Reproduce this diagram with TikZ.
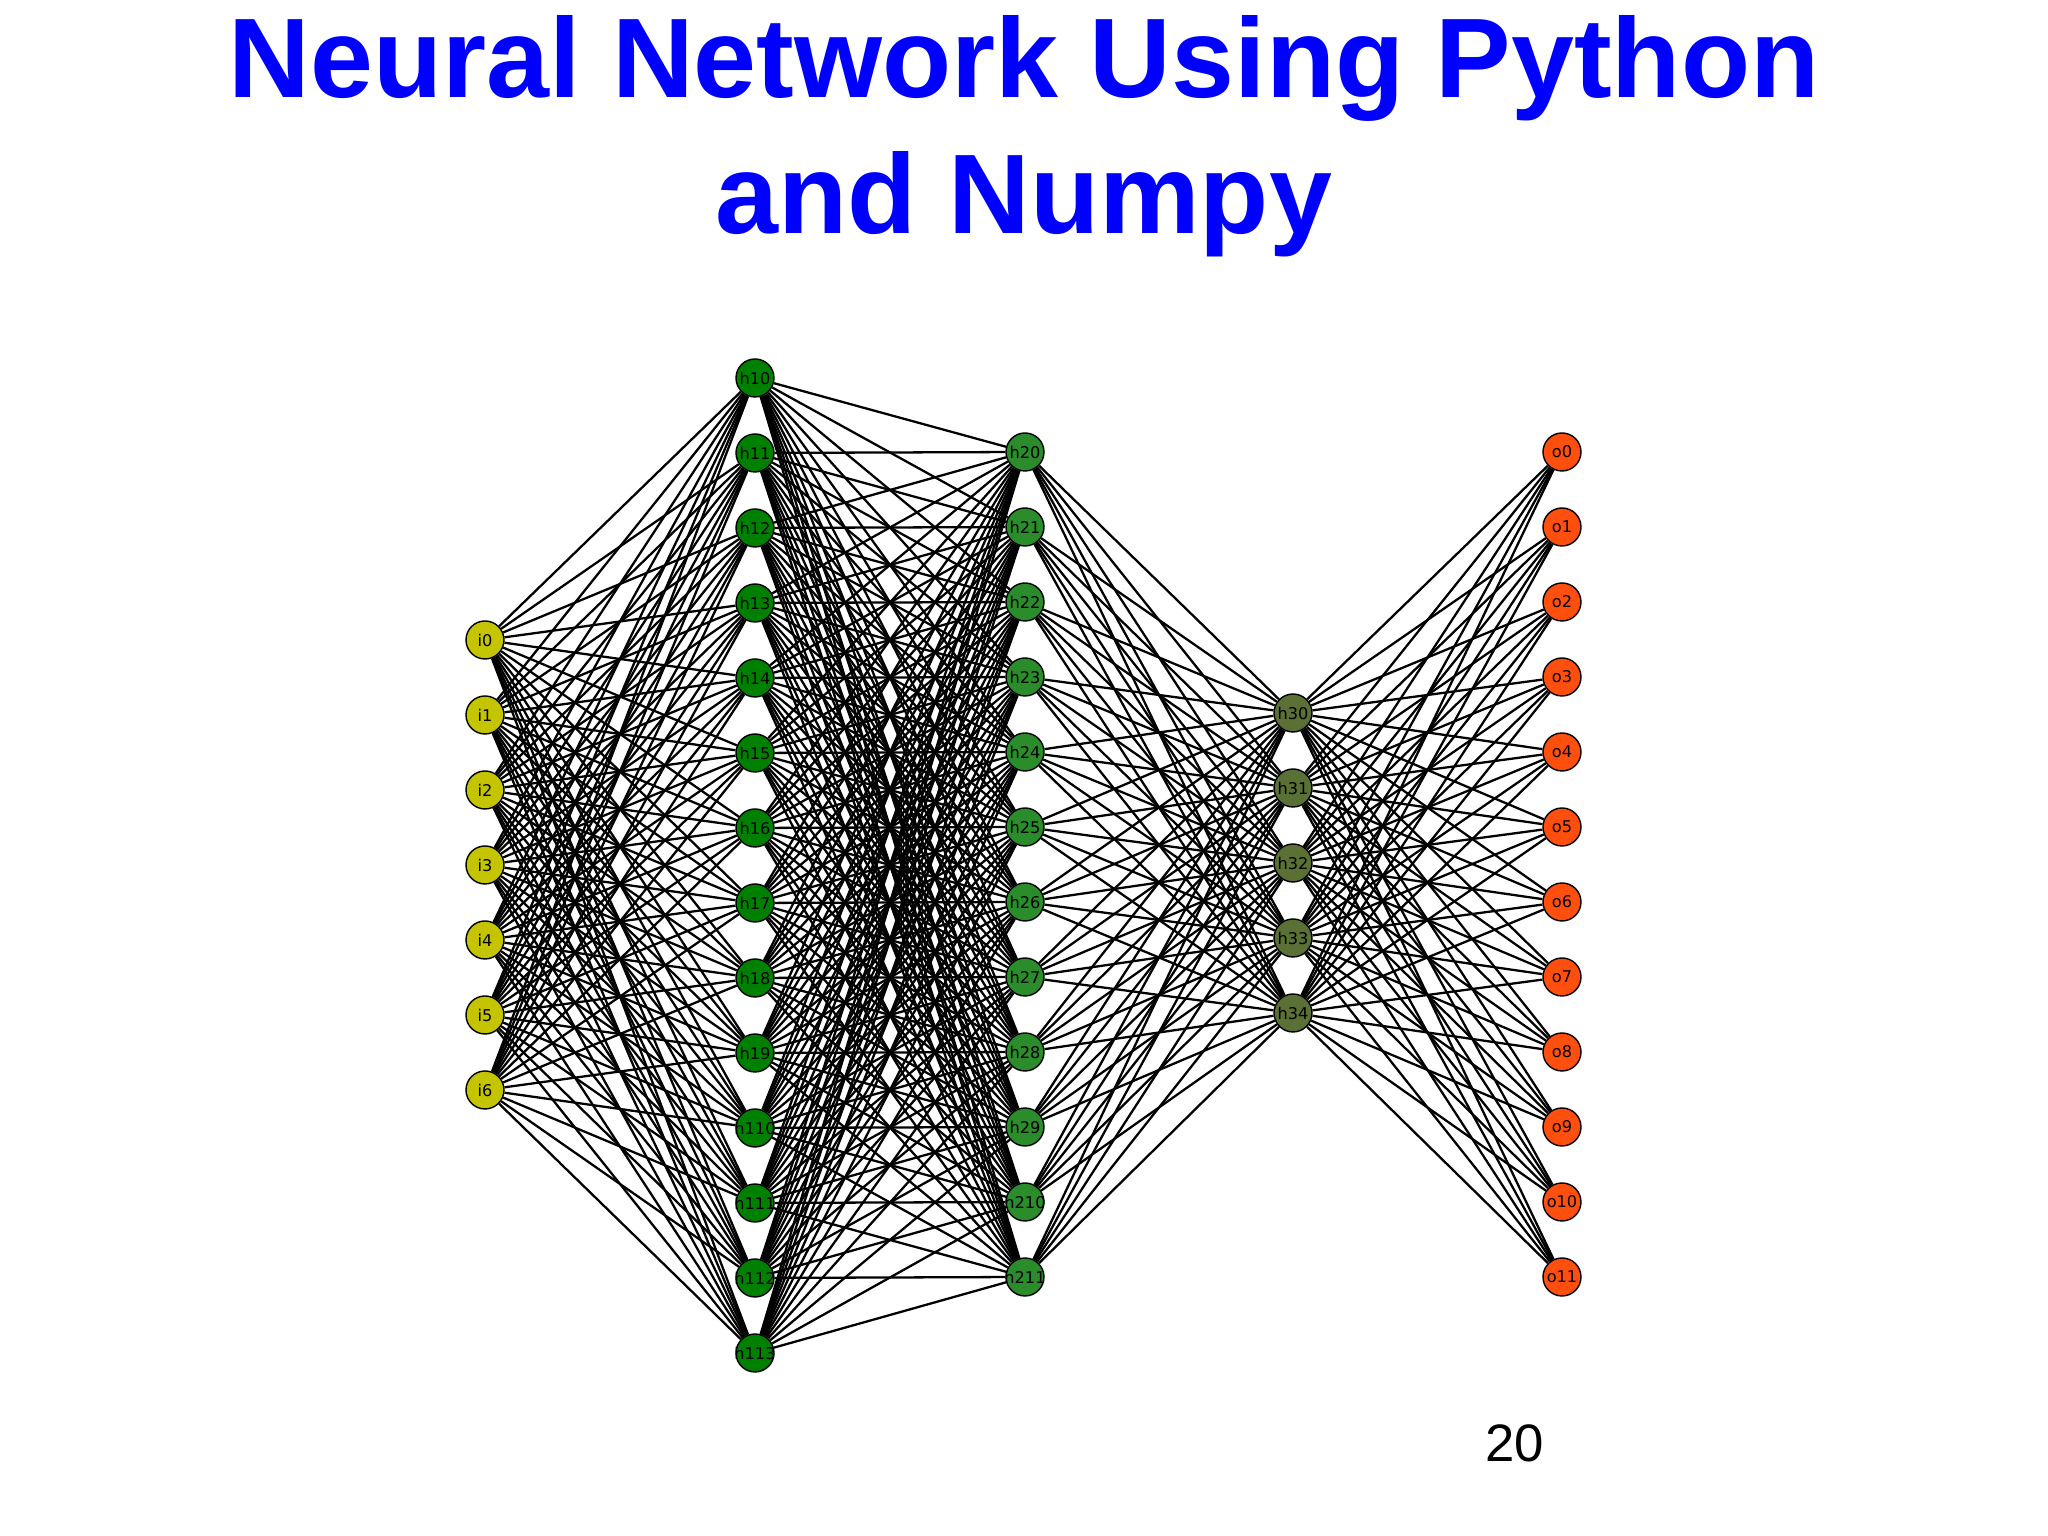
\documentclass[tikz,border=0pt]{standalone}
\usepackage{fontspec}
\setmainfont{Liberation Sans}
\newfontfamily\neuronfont{DejaVu Sans}
\definecolor{titleblue}{HTML}{0000FF}
\definecolor{inyellow}{HTML}{C4C400}
\definecolor{hidgreena}{HTML}{008000}
\definecolor{hidgreenb}{HTML}{2A8C2A}
\definecolor{hidolive}{HTML}{5A7035}
\definecolor{outorange}{HTML}{FF4F0F}
\newcommand{\nlab}[1]{\makebox[0pt]{#1}}
\begin{document}
\begin{tikzpicture}
  \tikzset{nn/.style={draw,circle,minimum size=3.8mm,inner sep=0pt,line width=0.4pt,
      font=\neuronfont\fontsize{4.6}{5}\selectfont},
    syn/.style={line width=0.65pt}}
  \useasboundingbox (0,0) rectangle (20.48,15.36);
  \node[font=\bfseries\fontsize{32.2}{38.7}\selectfont,text=titleblue,align=center,anchor=base]
    (title) at (10.24,13.02) {Neural Network Using Python\\and Numpy};
  % layers
  \foreach \k in {0,...,6}
    \node[nn,fill=inyellow] (i\k) at (4.85,8.96-0.75*\k) {\nlab{i\k}};
  \foreach \k in {0,...,13}
    \node[nn,fill=hidgreena] (h1\k) at (7.55,11.58-0.75*\k) {\nlab{h1\k}};
  \foreach \k in {0,...,11}
    \node[nn,fill=hidgreenb] (h2\k) at (10.25,10.84-0.75*\k) {\nlab{h2\k}};
  \foreach \k in {0,...,4}
    \node[nn,fill=hidolive] (h3\k) at (12.93,8.23-0.75*\k) {\nlab{h3\k}};
  \foreach \k in {0,...,11}
    \node[nn,fill=outorange] (o\k) at (15.62,10.84-0.75*\k) {\nlab{o\k}};
  % weights
  \foreach \a in {0,...,6} \foreach \b in {0,...,13} \draw[syn] (i\a)--(h1\b);
  \foreach \a in {0,...,13} \foreach \b in {0,...,11} \draw[syn] (h1\a)--(h2\b);
  \foreach \a in {0,...,11} \foreach \b in {0,...,4} \draw[syn] (h2\a)--(h3\b);
  \foreach \a in {0,...,4} \foreach \b in {0,...,11} \draw[syn] (h3\a)--(o\b);
  \node[font=\fontsize{15}{18}\selectfont] (page) at (15.15,0.93) {20};
\end{tikzpicture}
\end{document}
